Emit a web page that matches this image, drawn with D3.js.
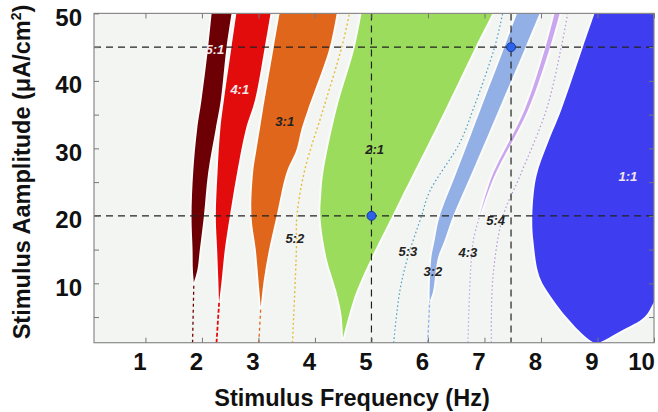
<!DOCTYPE html>
<html lang="en">
<head>
    <meta charset="utf-8">
    <title>Arnold tongues</title>
    <script src="https://cdn.jsdelivr.net/npm/d3@7"></script>
    <style>
        body{
            margin: 0;
            background: #fff;
        }
        .tickT{
            font-family: "Liberation Sans", Arial, sans-serif;
            font-weight: bold;
            font-size: 24px;
            fill: #111;
        }
        .axisT{
            font-family: "Liberation Sans", Arial, sans-serif;
            font-weight: bold;
            font-size: 23.5px;
            fill: #111;
        }
        .ratioT{
            font-family: "Liberation Sans", Arial, sans-serif;
            font-weight: bold;
            font-style: italic;
            font-size: 13px;
        }
    </style>
</head>
<body>
    <div id="container"></div>
    <script type="text/javascript">
        // locking regions: [amplitude, low freq, high freq]
        var tongue51 = [[10.1,1.857,1.857],[12,1.84,1.92],[15,1.834,1.963],[19.9,1.816,2.034],[26.4,1.845,2.110],
                        [32.8,1.915,2.242],[37.2,1.993,2.334],[45,2.110,2.435],[50.3,2.175,2.53]];
        var tongue41 = [[7.1,2.304,2.304],[10.5,2.29,2.35],[15,2.269,2.405],[19.9,2.246,2.493],[26.4,2.276,2.622],
                        [32.8,2.325,2.776],[37.2,2.39,2.94],[45,2.523,3.112],[50.3,2.615,3.22]];
        var tongue31 = [[6.5,3.042,3.042],[10.5,3.00,3.095],[15,2.953,3.188],[19.9,2.877,3.319],[26.4,2.905,3.496],
                        [29.8,2.965,3.673],[32.8,3.024,3.76],[35.7,3.08,3.873],[45,3.271,4.262],[50.3,3.38,4.39]];
        var tongue21 = [[1.9,4.497,4.497],[5.3,4.469,4.603],[8.77,4.380,4.734],[13.8,4.203,5.001],[19.9,4.097,5.363],
                        [23.1,4.111,5.55],[26.1,4.143,5.731],[35.7,4.380,6.304],[45,4.704,6.84],[50.3,4.83,7.16]];
        var tongue32 = [[7.3,6.03,6.03],[8.77,6.030,6.089],[13.8,6.060,6.177],[16.0,6.110,6.278],[19.9,6.207,6.442],
                        [25.9,6.481,6.752],[35.7,6.928,7.252],[45,7.353,7.726],[50.3,7.59,7.99]];
        var tongue43 = [[19.9,6.914,6.914],[25.8,7.13,7.17],[35.7,7.71,7.77],[45,8.08,8.16],[50.3,8.25,8.34]];
        var tongue11 = [[1.0,8.98,8.98],[1.6,8.859,9.13],[3.0,8.67,9.43],[5.0,8.45,9.832],
                        [7.5,8.22,10.02],[10.95,7.975,10.3],[16,7.869,10.3],[19.9,7.846,10.3],
                        [25.8,7.917,10.3],[30.8,8.122,10.3],[35.7,8.359,10.3],[45,8.741,10.3],[50.3,8.96,10.3]];

        // narrow locking lines: [amplitude, freq]
        var line52 = [[1.2,3.602],[15,3.672],[19.9,3.68],[26.8,3.82],[35.7,4.143],[45,4.474],[50.3,4.62]];
        var line53 = [[1.2,5.393],[8.77,5.500],[13.8,5.641],[19.9,5.883],[23.6,6.030],[30.8,6.561],[35.7,6.796],[45,7.180],[50.3,7.33]];
        var line54 = [[1.2,7.121],[10.95,7.150],[19.9,7.326],[25.8,7.622],[35.7,8.094],[45,8.359],[50.3,8.48]];
        var line43 = [[1.2,6.708],[16.0,6.796],[19.9,6.914]];
        var stem51 = [[1.2,1.834],[10.1,1.857]];
        var stem41 = [[1.2,2.258],[7.1,2.304]];
        var stem31 = [[1.2,3.006],[6.5,3.042]];
        var stem32 = [[1.2,5.995],[7.3,6.03]];

        var ratios = ['5:1','4:1','3:1','2:1','1:1','5:2','5:3','3:2','4:3','5:4'];
        var ratioFreq = [2.228, 2.670, 3.466, 5.057, 9.537, 3.643, 5.646, 6.088, 6.707, 7.197];
        var ratioAmp = [44.6, 38.7, 34.0, 29.8, 25.8, 16.7, 14.7, 11.7, 14.5, 19.3];
        var ratioLight = [true, true, false, false, true, false, false, false, false, false];

        var guideFreq = [5.0, 7.47];
        var guideAmp = [20, 45];
        var pointFreq = [5.0, 7.47];
        var pointAmp = [20, 45];

        var xTicks = [1,2,3,4,5,6,7,8,9,10];
        var yTicks = [5,10,15,20,25,30,35,40,45,50];

        var width = 658, height = 412;
        var plot = {left:94, right:654, top:13.4, bottom:342.7};

        var svg = d3.select('#container')
                    .append('svg')
                    .attr('width', width)
                    .attr('height', height);

        var xScale = d3.scaleLinear().domain([0.09, 10]).range([plot.left, plot.right]);
        var yScale = d3.scaleLinear().domain([1.2, 50]).range([plot.bottom, plot.top]);

        svg.append('clipPath')
           .attr('id', 'clip')
           .append('rect')
           .attr('x', plot.left)
           .attr('y', plot.top)
           .attr('width', plot.right - plot.left)
           .attr('height', plot.bottom - plot.top);

        svg.append('rect')
           .attr('x', plot.left)
           .attr('y', plot.top)
           .attr('width', plot.right - plot.left)
           .attr('height', plot.bottom - plot.top)
           .attr('fill', '#f3f5f2');

        var g = svg.append('g').attr('clip-path', 'url(#clip)');

        var area = d3.area()
                     .y(d => yScale(d[0]))
                     .x0(d => xScale(d[1]))
                     .x1(d => xScale(d[2]))
                     .curve(d3.curveCatmullRom);
        var line = d3.line()
                     .y(d => yScale(d[0]))
                     .x(d => xScale(d[1]))
                     .curve(d3.curveCatmullRom);

        var regions = [[tongue11, '#3e3ef0'], [tongue21, '#9bdc5c'], [tongue31, '#e0661c'],
                       [tongue41, '#e20c0c'], [tongue51, '#6c0004'], [tongue32, '#92b0e6'],
                       [tongue43, '#caa6ee']];

        // faint white halo around the locked regions
        g.selectAll('.halo')
         .data(regions)
         .enter()
         .append('path')
         .attr('class', 'halo')
         .attr('fill', '#fbfcfb')
         .attr('stroke', '#fbfcfb')
         .attr('stroke-width', 4)
         .attr('stroke-linejoin', 'round')
         .attr('d', d => area(d[0]));

        g.selectAll('.region')
         .data(regions)
         .enter()
         .append('path')
         .attr('class', 'region')
         .attr('fill', d => d[1])
         .attr('d', d => area(d[0]));

        var dotted = [[line52, '#e6bc3a', 1.4, '2,2.5'], [line53, '#4a9cc4', 1.2, '1.5,2.5'],
                      [line54, '#b894d8', 1.2, '1.5,2.5'], [line43, '#c0a0e4', 1.2, '1.5,2.5'],
                      [stem51, '#6c0004', 1.3, '3,3'], [stem41, '#e20c0c', 1.8, '4,2'],
                      [stem31, '#e0661c', 1.3, '3,3'], [stem32, '#92b0e6', 1.3, '3,2']];
        g.selectAll('.thin')
         .data(dotted)
         .enter()
         .append('path')
         .attr('class', 'thin')
         .attr('fill', 'none')
         .attr('stroke', d => d[1])
         .attr('stroke-width', d => d[2])
         .attr('stroke-dasharray', d => d[3])
         .attr('d', d => line(d[0]));

        // guide lines
        g.selectAll('.hguide')
         .data(guideAmp)
         .enter()
         .append('line')
         .attr('class', 'hguide')
         .attr('x1', plot.left).attr('x2', plot.right)
         .attr('y1', d => yScale(d)).attr('y2', d => yScale(d))
         .attr('stroke', '#222').attr('stroke-width', 1.2)
         .attr('stroke-dasharray', '7,5');
        g.selectAll('.vguide')
         .data(guideFreq)
         .enter()
         .append('line')
         .attr('class', 'vguide')
         .attr('y1', plot.top).attr('y2', plot.bottom)
         .attr('x1', d => xScale(d)).attr('x2', d => xScale(d))
         .attr('stroke', '#222').attr('stroke-width', 1.2)
         .attr('stroke-dasharray', '7,5');

        g.selectAll('.ratioT')
         .data(ratios)
         .enter()
         .append('text')
         .attr('class', 'ratioT')
         .attr('x', (d, i) => xScale(ratioFreq[i]))
         .attr('y', (d, i) => yScale(ratioAmp[i]))
         .attr('text-anchor', 'middle')
         .attr('dominant-baseline', 'central')
         .attr('fill', (d, i) => ratioLight[i] ? '#f4e6ea' : '#222')
         .text(d => d);

        g.selectAll('.pt')
         .data(pointFreq)
         .enter()
         .append('circle')
         .attr('class', 'pt')
         .attr('cx', d => xScale(d))
         .attr('cy', (d, i) => yScale(pointAmp[i]))
         .attr('r', 4.5)
         .attr('fill', '#2c62e8')
         .attr('stroke', '#1a3a9c')
         .attr('stroke-width', 1);

        // frame and ticks
        svg.append('rect')
           .attr('x', plot.left)
           .attr('y', plot.top)
           .attr('width', plot.right - plot.left)
           .attr('height', plot.bottom - plot.top)
           .attr('fill', 'none')
           .attr('stroke', '#8a8a8a')
           .attr('stroke-width', 1.2);

        var xAxis = d3.axisBottom(xScale).tickValues(xTicks).tickSizeInner(-5).tickSizeOuter(0).tickPadding(10);
        var xAxisTop = d3.axisTop(xScale).tickValues(xTicks).tickSizeInner(-5).tickSizeOuter(0).tickFormat('');
        var yAxis = d3.axisLeft(yScale).tickValues(yTicks).tickSizeInner(-5).tickSizeOuter(0).tickPadding(12)
                      .tickFormat(d => d % 10 === 0 ? d : '');
        var yAxisRight = d3.axisRight(yScale).tickValues(yTicks).tickSizeInner(-5).tickSizeOuter(0).tickFormat('');

        var gx = svg.append('g').attr('transform', 'translate(0,' + plot.bottom + ')').call(xAxis);
        svg.append('g').attr('transform', 'translate(0,' + plot.top + ')').call(xAxisTop);
        var gy = svg.append('g').attr('transform', 'translate(' + plot.left + ',0)').call(yAxis);
        svg.append('g').attr('transform', 'translate(' + plot.right + ',0)').call(yAxisRight);

        svg.selectAll('.domain').remove();
        svg.selectAll('.tick line').attr('stroke', '#777');
        gx.selectAll('text').attr('class', 'tickT').attr('dx', d => d === 10 ? -13 : -6)
          .attr('font-family', null).attr('font-size', null);
        gy.selectAll('text').attr('class', 'tickT').attr('dy', '0.5em').attr('font-family', null).attr('font-size', null);

        svg.append('text')
           .attr('class', 'axisT')
           .attr('x', 352)
           .attr('y', 406)
           .attr('text-anchor', 'middle')
           .text('Stimulus Frequency (Hz)');
        var yt = svg.append('text')
           .attr('class', 'axisT')
           .attr('text-anchor', 'middle')
           .attr('transform', 'translate(30,172) rotate(-90)');
        yt.append('tspan').text('Stimulus Aamplitude (μA/cm');
        yt.append('tspan').attr('font-size', '14px').attr('dy', -9).text('2');
        yt.append('tspan').attr('dy', 9).text(')');
    </script>
</body>
</html>
